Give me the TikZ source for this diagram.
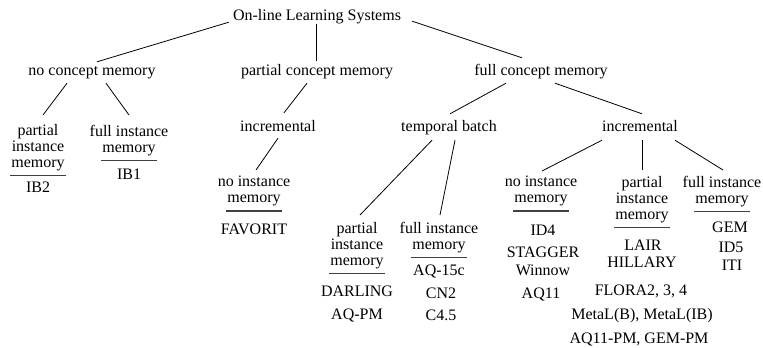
\documentclass[tikz,border=0pt]{standalone}
\usepackage{fontspec}
\setmainfont{Liberation Serif}
\usetikzlibrary{calc}
\tikzset{
  txt/.style={inner sep=0pt, font=\fontsize{16}{16}\selectfont},
  lbl/.style={txt, anchor=base, text height=11pt, text depth=3.5pt},
  head/.style={txt, anchor=north, align=center},
  item/.style={txt, anchor=base},
  link/.style={draw=black, line width=0.8pt},
  uline/.style={draw=black!75, line width=1.2pt}
}
\newcommand{\headrule}[1]{\draw[uline] ($(#1.south)+(-28,4.5)$) -- ++(56,0);}
\begin{document}
\begin{tikzpicture}[x=1pt,y=-1pt]
\useasboundingbox (0,0) rectangle (763,348);

% tree of categories
\node[lbl] (root) at (317,20) {On-line Learning Systems};
\node[lbl] (nocm) at (92,75) {no concept memory};
\node[lbl] (pcm) at (317,75) {partial concept memory};
\node[lbl] (fcm) at (541,75) {full concept memory};
\node[lbl] (incL) at (278,131) {incremental};
\node[lbl] (temp) at (449,131) {temporal batch};
\node[lbl] (incR) at (640,131) {incremental};

% instance-memory headings
\node[head] (hA) at (38,124) {partial\\instance\\memory};
\node[head] (hB) at (129,125) {full instance\\memory};
\node[head] (hC) at (254,176) {no instance\\memory};
\node[head] (hD) at (357,222) {partial\\instance\\memory};
\node[head] (hE) at (439,222) {full instance\\memory};
\node[head] (hF) at (541,176) {no instance\\memory};
\node[head] (hG) at (642,176) {partial\\instance\\memory};
\node[head] (hH) at (722,176) {full instance\\memory};

\headrule{hA}\headrule{hB}\headrule{hC}\headrule{hD}
\headrule{hE}\headrule{hF}\headrule{hG}\headrule{hH}

% systems
\node[item] (ib2) at (38,192) {IB2};
\node[item] (ib1) at (129,179) {IB1};
\node[item] (fav) at (254,234) {FAVORIT};
\node[item] (darl) at (357,296) {DARLING};
\node[item] (aqpm) at (357,319) {AQ-PM};
\node[item] (aq15) at (439,275) {AQ-15c};
\node[item] (cn2) at (441,298) {CN2};
\node[item] (c45) at (441,320) {C4.5};
\node[item] (id4) at (543,235) {ID4};
\node[item] (stag) at (543,257) {STAGGER};
\node[item] (winn) at (543,275) {Winnow};
\node[item] (aq11) at (541,298) {AQ11};
\node[item] (lair) at (643,250) {LAIR};
\node[item] (hill) at (642,267) {HILLARY};
\node[item] (flor) at (641,295) {FLORA2, 3, 4};
\node[item] (meta) at (642,319) {MetaL(B), MetaL(IB)};
\node[item] (aqgm) at (639,343) {AQ11-PM, GEM-PM};
\node[item] (gem) at (730,232) {GEM};
\node[item] (id5) at (731,252) {ID5};
\node[item] (iti) at (732,270) {ITI};

% connectors
\draw[link] ($(root.south west)+(-4,-1.5)$) -- ($(nocm.north)+(5,-2)$);
\draw[link] ($(root.south)+(-1,0)$) -- ($(pcm.north)+(-1,-3)$);
\draw[link] ($(root.south east)+(11,-2.5)$) -- ($(fcm.north)+(-19,-6)$);
\draw[link] ($(nocm.south)+(-25,4.5)$) -- ($(hA.north)+(5,-9)$);
\draw[link] ($(nocm.south)+(14,4.5)$) -- ($(hB.north)+(0,-10)$);
\draw[link] ($(pcm.south)+(-10,4.5)$) -- ($(incL.north)+(6,-7)$);
\draw[link] ($(fcm.south)+(-35,4.5)$) -- ($(temp.north)+(1,-6)$);
\draw[link] ($(fcm.south)+(14,4.5)$) -- ($(incR.north)+(2,-6)$);
\draw[link] ($(incL.south)+(0,3.5)$) -- ($(hC.north)+(2,-6)$);
\draw[link] ($(temp.south)+(-17,5.5)$) -- ($(hD.north)+(3,-7)$);
\draw[link] ($(temp.south)+(6,5.5)$) -- ($(hE.north)+(1,-7)$);
\draw[link] ($(incR.south)+(-38,5.5)$) -- ($(hF.north)+(1,-5)$);
\draw[link] ($(incR.south)+(2,5.5)$) -- ($(hG.north)+(0,-6)$);
\draw[link] ($(incR.south)+(35,5.5)$) -- ($(hH.north)+(1,-6)$);
\end{tikzpicture}
\end{document}
